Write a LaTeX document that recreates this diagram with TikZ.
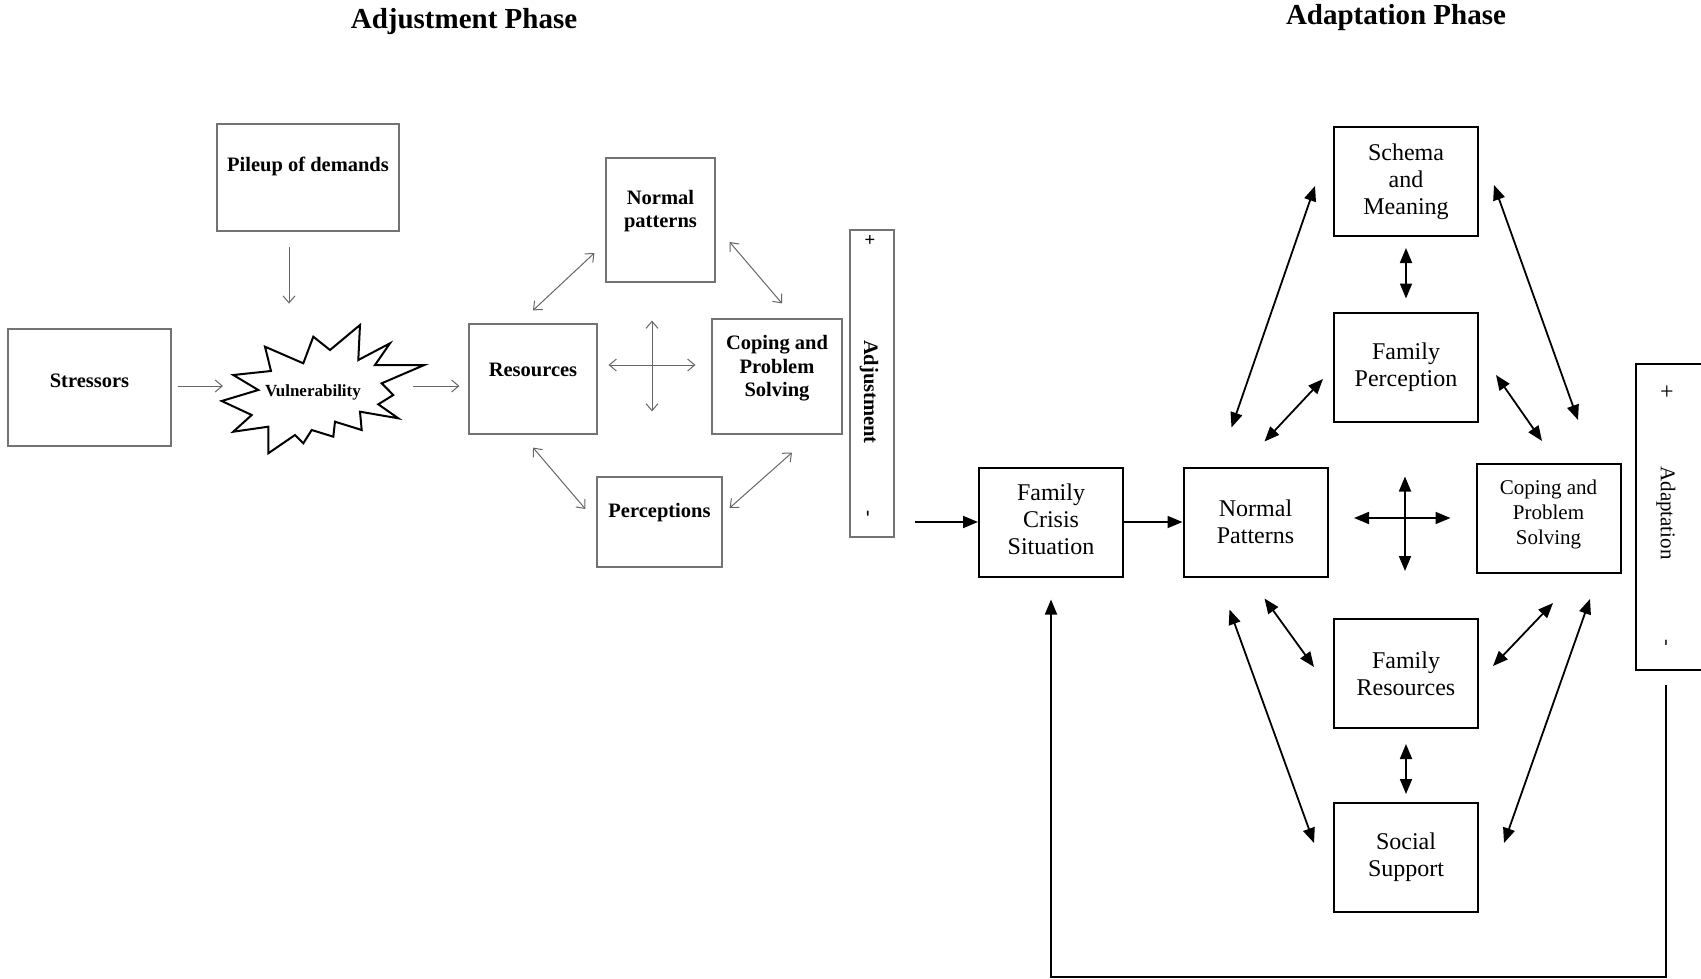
\documentclass[tikz,border=0pt]{standalone}
\usepackage{fontspec}
\setmainfont{Liberation Serif}
\usetikzlibrary{arrows.meta,positioning,calc}

\tikzstyle{lbox}  =[draw=black!55, line width=1.2pt, inner sep=0pt]
\tikzstyle{ltext} =[font=\fontsize{20.5}{23.5}\selectfont\bfseries, align=center, inner sep=0pt]
\tikzstyle{rbox}  =[draw=black, line width=2pt, minimum width=144pt, minimum height=109pt, align=center, inner sep=0pt, font=\fontsize{24}{27}\selectfont]
\tikzstyle{larr}  =[-{Straight Barb[length=7pt,width=12pt]}, draw=black!60, line width=1pt]
\tikzstyle{ldbl}  =[{Straight Barb[length=7pt,width=12pt]}-{Straight Barb[length=7pt,width=12pt]}, draw=black!60, line width=1pt]
\tikzstyle{rarr}  =[-{Triangle[length=15pt,width=12pt]}, line width=1.8pt]
\tikzstyle{rdbl}  =[{Triangle[length=15pt,width=12pt]}-{Triangle[length=15pt,width=12pt]}, line width=1.8pt]

\begin{document}
\begin{tikzpicture}[x=1pt, y=-1pt]

  \useasboundingbox (0,0) rectangle (1701,979);
  \clip (0,0) rectangle (1701,979);

  % ── titles ─────────────────────────────────────────────────────────────────
  \node[font=\fontsize{29}{32}\selectfont\bfseries] (adjtitle) at (464,22) {Adjustment Phase};
  \node[font=\fontsize{29}{32}\selectfont\bfseries] (adatitle) at (1396,18) {Adaptation Phase};

  % ── Adjustment Phase ───────────────────────────────────────────────────────
  \node[lbox, minimum width=163pt, minimum height=117pt, label={[ltext,yshift=7pt]center:Stressors}] (stress) at (89.5,387.5) {};
  \node[lbox, minimum width=182pt, minimum height=107pt, label={[ltext,yshift=11pt]center:Pileup of demands}] (pileup) at (308,177.5) {};
  \node[lbox, minimum width=128pt, minimum height=110pt, label={[ltext,yshift=9pt]center:Resources}] (res) at (533,379) {};
  \node[lbox, minimum width=109pt, minimum height=124pt, label={[ltext,yshift=9pt]center:Normal\\patterns}] (normp) at (660.5,220) {};
  \node[lbox, minimum width=130pt, minimum height=115pt, label={[ltext,yshift=8pt]center:Coping and\\Problem\\Solving}] (copl) at (777,376.5) {};
  \node[lbox, minimum width=125pt, minimum height=90pt, label={[ltext,yshift=9pt]center:Perceptions}] (perc) at (659.5,522) {};

  \node[lbox, minimum width=44pt, minimum height=307pt] (adjust) at (872,383.5) {};
  \node[ltext, rotate=-90] (adjtxt) at (869,392) {Adjustment};
  \node[ltext, font=\fontsize{19}{19}\selectfont\bfseries, rotate=-90] (adjplus) at (869,240) {+};
  \node[ltext, font=\fontsize{19}{19}\selectfont\bfseries, rotate=-90] (adjminus) at (866,514) {-};

  % starburst
  \draw[line width=2pt, line join=miter]
    (233.3,375) -- (271,371) -- (265,346.7) -- (303.3,363.3) -- (313.3,336.7) -- (330,350)
    -- (360,325) -- (358.3,360) -- (390,343.3) -- (375,365) -- (424.3,365) -- (381.7,383.3)
    -- (393.3,395) -- (378.3,404.3) -- (398.3,418.3) -- (360,411.7) -- (361.7,430) -- (335,421.7)
    -- (333.3,436.7) -- (311.7,430) -- (303.3,443.3) -- (295,435) -- (268.3,453.3) -- (268.3,426.7)
    -- (233.3,431.7) -- (251.7,415) -- (221.7,401) -- (258.3,390) -- cycle;
  \node[ltext, font=\fontsize{17}{20}\selectfont\bfseries] (vuln) at (313,392) {Vulnerability};

  \draw[larr] ($(pileup.south)+(-19,15)$) -- ++(0,57);
  \draw[larr] ($(stress.east)+(6,-1.5)$) -- ($(vuln.west)+(-42,-6)$);
  \draw[larr] ($(vuln.east)+(52,-6)$) -- ($(res.west)+(-9,7)$);

  \draw[ldbl] ($(res.north)+(0,-13)$) -- ($(normp.west)+(-11,33)$);
  \draw[ldbl] ($(normp.east)+(14,22)$) -- ($(copl.north)+(5,-15)$);
  \draw[ldbl] ($(res.south)+(0,13)$) -- ($(perc.west)+(-11,-13)$);
  \draw[ldbl] ($(perc.east)+(7,-14)$) -- ($(copl.south)+(15,18)$);
  \draw[ldbl] ($(normp.south)+(-8.5,38)$) -- ($(perc.north)+(-7.5,-65)$);
  \draw[ldbl] ($(res.east)+(11,-14)$) -- ($(copl.west)+(-16,-11.5)$);

  % ── Adaptation Phase ───────────────────────────────────────────────────────
  \node[rbox, label={[align=center,font=\fontsize{24}{27}\selectfont,yshift=3pt]center:Family\\Crisis\\Situation}] (crisis) at (1051,522) {};
  \node[rbox] (normal) at (1255.5,522) {Normal\\Patterns};
  \node[rbox, label={[align=center,font=\fontsize{21}{25}\selectfont,yshift=4pt]center:Coping and\\Problem\\Solving}] (coping) at (1548.5,518.5) {};
  \node[rbox] (schema) at (1406,181.5) {Schema\\and\\Meaning};
  \node[rbox] (famperc) at (1406,367) {Family\\Perception};
  \node[rbox] (famres) at (1406,673.5) {Family\\Resources};
  \node[rbox] (social) at (1406,857.5) {Social\\Support};

  \node[draw, line width=2pt, minimum width=100pt, minimum height=306pt, inner sep=0pt] (adapt) at (1686,517) {};
  \node[font=\fontsize{21}{21}\selectfont, rotate=-90, inner sep=0pt] (adatxt) at (1666,513) {Adaptation};
  \node[font=\fontsize{24}{24}\selectfont, inner sep=0pt] (adaplus) at (1667,393) {+};
  \node[font=\fontsize{20}{20}\selectfont, rotate=-90, inner sep=0pt] (adaminus) at (1664,643) {-};

  \coordinate (in) at (915,522);
  \coordinate (fb) at (1666,685);
  \coordinate (fbc) at (1666,977);

  \draw[rarr] (in) -- (crisis.west);
  \draw[rarr] (crisis) -- (normal);
  \draw[rarr, shorten >=22pt] (fb) -- (fbc) -| (crisis.south);

  \draw[rdbl] ($(normal.north)+(-24,-39)$) -- ($(schema.west)+(-18,4.5)$);
  \draw[rdbl] ($(normal.north)+(9,-25)$) -- ($(famperc.west)+(-10,12)$);
  \draw[rdbl] ($(famperc.east)+(17,8)$) -- ($(coping.north)+(-6.5,-22)$);
  \draw[rdbl] ($(schema.east)+(15,3.5)$) -- ($(coping.north)+(29.5,-43)$);
  \draw[rdbl, shorten <=11pt, shorten >=13pt] (schema) -- (famperc);
  \draw[rdbl] ($(normal.south)+(9,21)$) -- ($(famres.west)+(-19,-6.5)$);
  \draw[rdbl] ($(normal.south)+(-26,32)$) -- ($(social.west)+(-19,-14.5)$);
  \draw[rdbl, shorten <=15pt, shorten >=8pt] (famres) -- (social);
  \draw[rdbl] ($(coping.south)+(4.5,29)$) -- ($(famres.east)+(14,-7.5)$);
  \draw[rdbl] ($(coping.south)+(41.5,25)$) -- ($(social.east)+(25,-14.5)$);
  \draw[rdbl] ($(normal.east)+(25.5,-4)$) -- ($(coping.west)+(-25,-0.5)$);
  \draw[rdbl] ($(famperc.south)+(-1,54)$) -- ($(famres.north)+(-1,-47)$);

\end{tikzpicture}
\end{document}
